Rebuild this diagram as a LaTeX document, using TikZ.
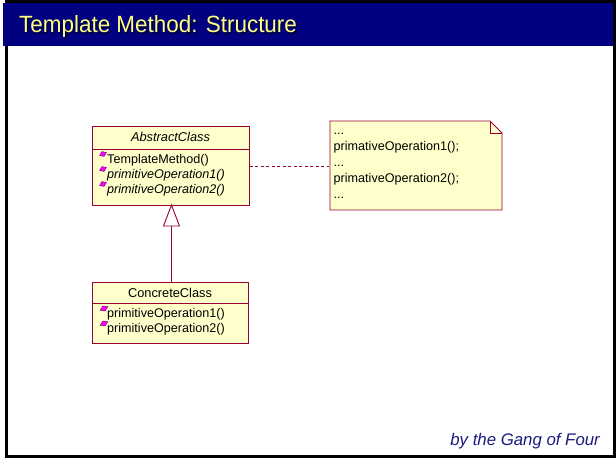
\documentclass[tikz,border=0pt]{standalone}
\usepackage{fontspec}
\setmainfont{Liberation Sans}
\usetikzlibrary{shapes.geometric}

\definecolor{umlline}{HTML}{990033}
\definecolor{umlfill}{HTML}{FFFFCC}
\definecolor{titlebg}{HTML}{000080}
\definecolor{titlefg}{HTML}{FFFF80}
\definecolor{titleshade}{HTML}{00003A}
\definecolor{opicon}{HTML}{FF00FF}
\definecolor{opedge}{HTML}{800080}
\definecolor{footfg}{HTML}{1A1A80}

\tikzset{
  classbox/.style={draw=umlline, fill=umlfill, line width=0.9pt, rectangle,
    inner sep=0pt, anchor=north west},
  notebox/.style={draw=umlline, fill=umlfill, line width=0.9pt, line join=miter},
  umltext/.style={font=\fontsize{12.6}{14}\selectfont, inner sep=0pt, anchor=base west},
  umlhead/.style={font=\fontsize{12.8}{14}\selectfont, inner sep=0pt, anchor=base},
  opmark/.style={diamond, fill=opicon, draw=opedge, line width=0.5pt,
    inner sep=0pt, minimum width=7.5pt, minimum height=5.5pt, rotate=25},
  sepline/.style={draw=umlline, line width=0.9pt},
  assoc/.style={draw=umlline, line width=0.9pt, dash pattern=on 3pt off 2.5pt},
  inherit/.style={draw=umlline, line width=0.9pt},
  titletext/.style={anchor=base west, inner sep=0pt,
    font=\fontsize{23.5}{24}\selectfont}
}

\begin{document}
\begin{tikzpicture}[x=1pt, y=-1pt]
\useasboundingbox (0,0) rectangle (616,465);
\fill[white] (0,0) rectangle (616,465);

% slide frame and title bar
\draw[black, line width=3pt] (6,1.5) rectangle (614.5,456.5);
\fill[titlebg] (3,3) rectangle (613,46.5);
\node[titletext, text=titleshade] (titleshadow) at (20.2,34.2)
  {\scalebox{0.955}[1]{Template Method: Structure}};
\node[titletext, text=titlefg] (title) at (19,33)
  {\scalebox{0.955}[1]{Template Method: Structure}};

% abstract class
\node[classbox, minimum width=157pt, minimum height=79pt] (abs) at (92,126) {};
\draw[sepline] (92,149) -- (249,149);
\node[umlhead] (absname) at (170.5,142) {\itshape AbstractClass};
\node[umltext] (absop0) at (107,163.5) {TemplateMethod()};
\node[umltext] (absop1) at (107,178.5) {\itshape primitiveOperation1()};
\node[umltext] (absop2) at (107,193.5) {\itshape primitiveOperation2()};
\node[opmark] (absm0) at (103,154) {};
\node[opmark] (absm1) at (103,169) {};
\node[opmark] (absm2) at (103,184) {};

% concrete class
\node[classbox, minimum width=156pt, minimum height=61pt] (conc) at (92,282) {};
\draw[sepline] (92,303) -- (248,303);
\node[umlhead] (concname) at (170,298) {ConcreteClass};
\node[umltext] (concop1) at (107,317) {primitiveOperation1()};
\node[umltext] (concop2) at (107,332) {primitiveOperation2()};
\node[opmark, minimum width=8.5pt] (concm1) at (104,308.5) {};
\node[opmark, minimum width=8.5pt] (concm2) at (104,323.5) {};

% generalisation: hollow triangle pointing at the abstract class
\coordinate (tip) at (171.5,205);
\coordinate (baseL) at (163.5,226);
\coordinate (baseR) at (179.5,226);
\coordinate (baseM) at (171.5,226);
\draw[inherit, fill=white, line join=miter] (tip) -- (baseL) -- (baseR) -- cycle;
\draw[inherit] (baseM) -- (conc.north -| baseM);

% note with folded corner
\coordinate (nNW) at (330,121);
\coordinate (nF1) at (490,121);
\coordinate (nF2) at (502,133);
\coordinate (nSE) at (502,210);
\coordinate (nSW) at (330,210);
\coordinate (nFC) at (490,133);
\draw[notebox] (nNW) -- (nF1) -- (nF2) -- (nSE) -- (nSW) -- cycle;
\draw[notebox, fill=none] (nF1) -- (nFC) -- (nF2);
\node[umltext] (nl1) at (333.5,135) {...};
\node[umltext] (nl2) at (333.5,151) {primativeOperation1();};
\node[umltext] (nl3) at (333.5,167) {...};
\node[umltext] (nl4) at (333.5,183) {primativeOperation2();};
\node[umltext] (nl5) at (333.5,199) {...};

% note attachment
\coordinate (noteL) at (329,166.5);
\draw[assoc] (abs.east |- noteL) -- (noteL);

% footer
\node[anchor=base east, inner sep=0pt, text=footfg,
      font=\fontsize{16.8}{18}\selectfont\itshape] (foot) at (600,445) {by the Gang of Four};
\end{tikzpicture}
\end{document}
